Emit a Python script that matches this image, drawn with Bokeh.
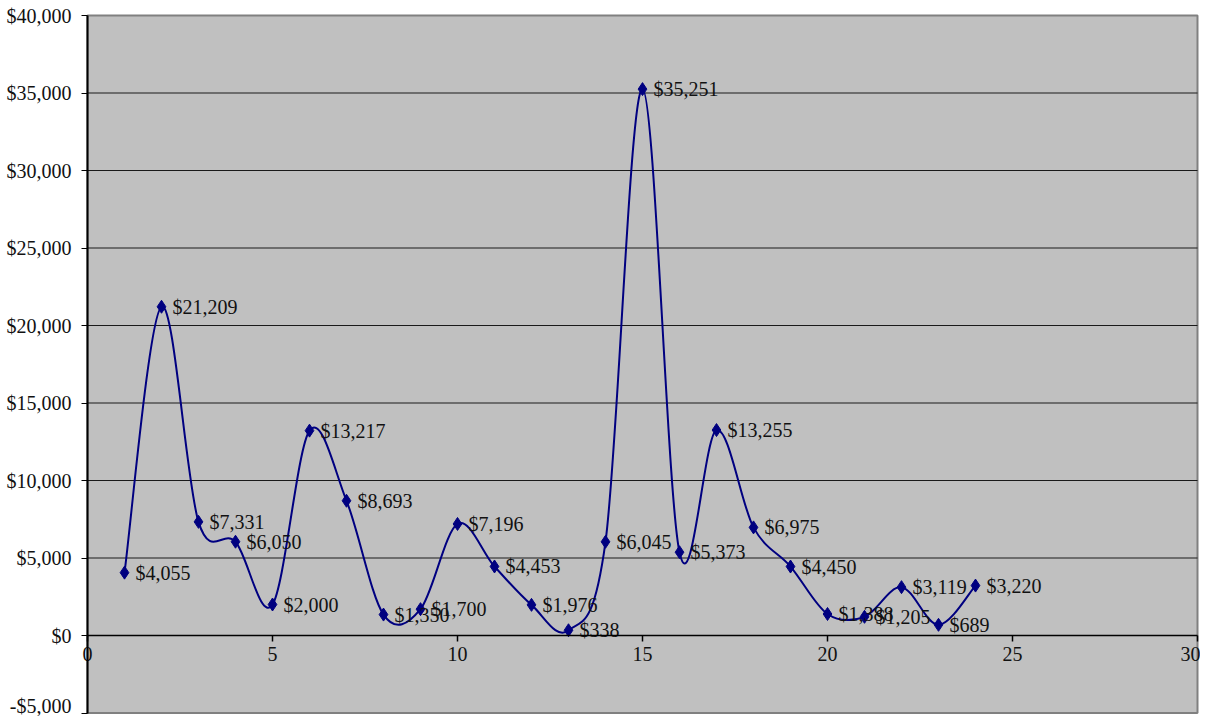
import numpy as np
from bokeh.plotting import figure
from bokeh.models import FixedTicker, ColumnDataSource, Range1d
from bokeh.core.properties import value
from bokeh.embed import file_html
from bokeh.resources import INLINE

# ---- data ----
x_vals = [1, 2, 3, 4, 5, 6, 7, 8, 9, 10, 11, 12, 13, 14, 15, 16, 17, 18, 19, 20, 21, 22, 23, 24]
amounts = [4055, 21209, 7331, 6050, 2000, 13217, 8693, 1350, 1700, 7196, 4453, 1976, 338,
           6045, 35251, 5373, 13255, 6975, 4450, 1388, 1205, 3119, 689, 3220]
y_ticks = [-5000, 0, 5000, 10000, 15000, 20000, 25000, 30000, 35000, 40000]
y_tick_labels = ["-$5,000", "$0", "$5,000", "$10,000", "$15,000", "$20,000",
                 "$25,000", "$30,000", "$35,000", "$40,000"]
x_ticks = [0, 5, 10, 15, 20, 25, 30]
x_tick_labels = ["0", "5", "10", "15", "20", "25", "30"]
x_min, x_max = 0, 30
y_min, y_max = -5000, 40000

FONT = value("Liberation Serif")
NAVY = "#000080"

# ---- layout (pixels) ----
W, H = 1200, 716
PAD_L, PAD_T = 87, 15          # canvas px from left/top edge to the plot area
AREA_W, AREA_H = 1110, 697.5   # plot area size in px
sx = (x_max - x_min) / AREA_W
sy = (y_max - y_min) / AREA_H
x_range = Range1d(x_min - PAD_L * sx, x_max + (W - PAD_L - AREA_W) * sx)
y_range = Range1d(y_min - (H - PAD_T - AREA_H) * sy, y_max + PAD_T * sy)

p = figure(width=W, height=H, x_range=x_range, y_range=y_range,
           output_backend="svg", toolbar_location=None,
           min_border_left=0, min_border_right=0, min_border_top=0, min_border_bottom=0)
p.background_fill_color = "white"
p.border_fill_color = "white"
p.outline_line_color = None
p.xgrid.visible = False
p.ygrid.visible = False

# plot area
p.quad(left=[x_min], right=[x_max], bottom=[y_min], top=[y_max],
       fill_color="#C0C0C0", line_color="#808080", line_width=2)
grid_vals = [t for t in y_ticks if t not in (y_min, 0, y_max)]
p.segment(x0=[x_min] * len(grid_vals), x1=[x_max] * len(grid_vals),
          y0=grid_vals, y1=grid_vals, line_color="#1a1a1a", line_width=1)

# y axis
p.yaxis.fixed_location = x_min
p.yaxis.bounds = (y_min, y_max)
p.yaxis.ticker = FixedTicker(ticks=y_ticks)
p.yaxis.major_label_overrides = {t: l for t, l in zip(y_ticks, y_tick_labels)}
p.yaxis.major_label_text_font = "Liberation Serif"
p.yaxis.major_label_text_font_size = "20px"
p.yaxis.major_label_text_color = "#111111"
p.yaxis.major_tick_in = 0
p.yaxis.major_tick_out = 6
p.yaxis.minor_tick_line_color = None
p.yaxis.major_label_standoff = 10
p.yaxis.axis_line_color = "black"
p.yaxis.axis_line_width = 2
p.yaxis.major_tick_line_color = "black"

# x axis crossing at y = 0
p.xaxis.fixed_location = 0
p.xaxis.bounds = (x_min, x_max)
p.xaxis.ticker = FixedTicker(ticks=x_ticks)
p.xaxis.major_label_overrides = {t: l for t, l in zip(x_ticks, x_tick_labels)}
p.xaxis.major_label_text_font = "Liberation Serif"
p.xaxis.major_label_text_font_size = "20px"
p.xaxis.major_label_text_color = "#111111"
p.xaxis.major_tick_in = 0
p.xaxis.major_tick_out = 6
p.xaxis.minor_tick_line_color = None
p.xaxis.major_label_standoff = 5
p.xaxis.axis_line_color = "black"
p.xaxis.axis_line_width = 1.5
p.xaxis.major_tick_line_color = "black"
p.xaxis.major_tick_line_width = 1.5

# smoothed line (Catmull-Rom style Bezier, like Excel's smoothed line)
xs = np.array(x_vals, dtype=float)
ys = np.array(amounts, dtype=float)
n = len(xs)
x0s, y0s, x1s, y1s, c0x, c0y, c1x, c1y = [], [], [], [], [], [], [], []
for i in range(n - 1):
    pm = i - 1 if i > 0 else i
    pp = i + 2 if i + 2 < n else i + 1
    x0s.append(xs[i]); y0s.append(ys[i])
    x1s.append(xs[i + 1]); y1s.append(ys[i + 1])
    c0x.append(xs[i] + (xs[i + 1] - xs[pm]) / 6.0)
    c0y.append(ys[i] + (ys[i + 1] - ys[pm]) / 6.0)
    c1x.append(xs[i + 1] - (xs[pp] - xs[i]) / 6.0)
    c1y.append(ys[i + 1] - (ys[pp] - ys[i]) / 6.0)
p.bezier(x0=x0s, y0=y0s, x1=x1s, y1=y1s, cx0=c0x, cy0=c0y, cx1=c1x, cy1=c1y,
         line_color=NAVY, line_width=2)

src = ColumnDataSource(dict(x=x_vals, y=amounts,
                            label=["$" + f"{v:,}" for v in amounts]))
p.scatter("x", "y", source=src, marker="diamond", size=13,
          fill_color=NAVY, line_color=NAVY)
p.text("x", "y", text="label", source=src, x_offset=11, text_baseline="middle",
       text_font=FONT, text_font_size="20px", text_color="#111111")

open("out.html", "w").write(file_html(p, INLINE))
